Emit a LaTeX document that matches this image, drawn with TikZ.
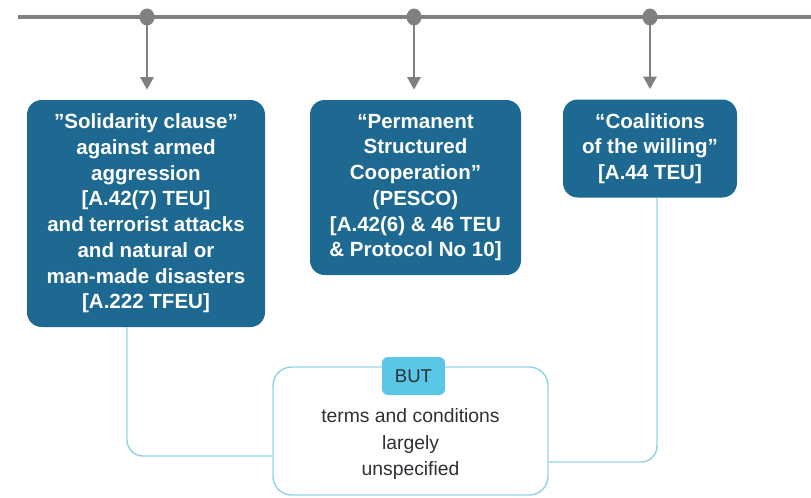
\documentclass[tikz,border=0pt]{standalone}
\usepackage{fontspec}
\setmainfont{Liberation Sans}
\usetikzlibrary{arrows.meta,calc}
\definecolor{BoxBlue}{RGB}{29,105,146}
\definecolor{LineGray}{RGB}{128,128,128}
\definecolor{LinkBlue}{RGB}{150,211,232}
\definecolor{TabCyan}{RGB}{90,199,230}
\definecolor{TextDark}{RGB}{45,48,52}

\begin{document}
\begin{tikzpicture}[x=0.75pt,y=0.75pt,yscale=-1,xscale=1,
  basebox/.style={fill=BoxBlue,draw=none,rounded corners=11pt,align=center,text=white,
    font=\bfseries\fontsize{15.4}{19.3}\selectfont,inner sep=0pt},
  arr/.style={draw=LineGray,line width=2.2pt,-{Triangle[width=9.75pt,length=9.5pt]},shorten >=7.5pt},
  link/.style={draw=LinkBlue,line width=1.1pt,rounded corners=12pt}]

	%uncomment if require: \path (0,497); %set diagram left start at 0, and has height of 497
	\useasboundingbox (0,0) rectangle (811,497);

	%Straight Lines [id:timeline]
	\draw [color=LineGray ,line width=2.4pt ]   (18,17) -- (811,17) ;
	\coordinate (p1) at (147,17);
	\coordinate (p2) at (414,17);
	\coordinate (p3) at (650,17);
	%Shape: Circle [id:dots]
	\foreach \p in {p1,p2,p3}
		\fill [color=LineGray] (\p) ellipse (7.5 and 8.5) ;

	% Text Node
	\node [basebox ,minimum width=178.5pt ,minimum height=170.25pt ] (sol) at (146,213.5) {"Solidarity clause”\\against armed\\aggression\\{[A.42(7) TEU]}\\and terrorist attacks\\and natural or\\man-made disasters\\{[A.222 TFEU]}};
	% Text Node
	\node [basebox ,minimum width=158.25pt ,minimum height=131.25pt ] (pesco) at (415.5,187.5) {“Permanent\\Structured\\Cooperation”\\(PESCO)\\{[A.42(6) \& 46 TEU}\\\& Protocol No 10]};
	% Text Node
	\node [basebox ,minimum width=130.5pt ,minimum height=73.5pt ] (coal) at (650,148.5) {“Coalitions\\of the willing"\\{[A.44 TEU]}};

	%Straight Lines [id:arrows]
	\draw [arr]   (p1) -- (p1 |- sol.north) ;
	\draw [arr]   (p2) -- (p2 |- pesco.north) ;
	\draw [arr]   (p3) -- (p3 |- coal.north) ;

	%Shape: Rectangle [id:cond]
	\node [draw=LinkBlue ,line width=1.1pt ,fill=white ,rounded corners=14pt ,minimum width=206.25pt ,minimum height=96pt ,inner sep=0pt] (cond) at (410.5,431) {};
	% Text Node
	\node [align=center ,text=TextDark ,font=\fontsize{14.5}{19.8}\selectfont ,inner sep=0pt] (condtxt) at (410.5,444) {terms and conditions\\largely\\unspecified};

	%Shape: Rectangle [id:tab]
	\node [fill=TabCyan ,rounded corners=4.5pt ,minimum width=47.25pt ,minimum height=28.5pt ,inner sep=0pt ,text=TextDark ,font=\fontsize{13.9}{16}\selectfont] (but) at (413.5,376) {BUT};

	%Straight Lines [id:links]
	\draw [link]   ($(sol.south)+(-19,0)$) |- ($(cond.west)+(0,25)$) ;
	\draw [link]   ($(coal.south)+(7,0)$) |- ($(cond.east)+(0,31)$) ;

\end{tikzpicture}
\end{document}
